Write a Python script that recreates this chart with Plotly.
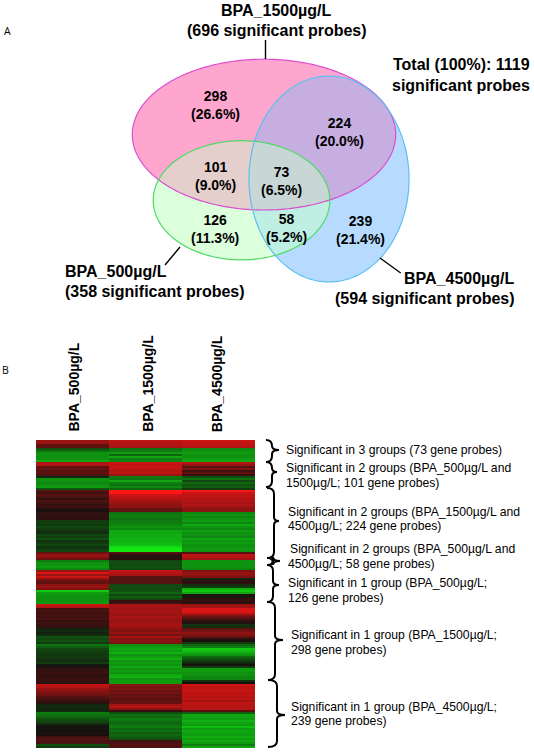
import math
import plotly.graph_objects as go

# ---------- data ----------
venn_counts = [298, 224, 101, 73, 126, 58, 239]
venn_percents = ["26.6", "20.0", "9.0", "6.5", "11.3", "5.2", "21.4"]
columns = ["BPA_500µg/L", "BPA_1500µg/L", "BPA_4500µg/L"]

col_500 = [.6,.6,.35,.35,-.3,-.45,-.6,-.6,-.6,-.6,-.7,.7,.7,.35,.4,.3,.35,.25,-.1,-.6,-.6,-.55,-.6,-.65,-.3,
 .3,.2,.3,.25,.15,.25,.2,.15,.2,.05,.03,.12,.14,.12,.1,
 -.2,-.22,-.18,-.25,-.2,-.15,-.12,-.25,-.2,-.3,-.15,-.2,-.25,-.15,-.2,-.25,
 .4,.6,.55,.4,-.5,-.6,-.6,-.65,-.55,.6,.85,.6,.8,.55,
 .4,.35,.55,.6,.5,-.85,-.65,-.6,-.6,-.6,-.6,-.65,.8,.7,
 .2,.25,.18,.22,.2,.25,.15,.2,.18,.12,-.1,-.12,-.08,-.12,-.3,-.25,-.3,-.2,
 -.45,-.35,-.25,-.22,-.2,-.18,-.2,-.15,-.12,-.2,-.03,.02,
 .15,.14,.18,.13,.15,.16,.14,.12,.75,.7,.6,.55,.5,.4,.3,.25,.15,.1,
 -.1,-.12,-.1,-.1,-.5,-.45,-.4,-.3,-.25,-.2,-.05,0,-.03,0,.05,.03,.2,.3,.25,.25,-.3,-.2]

col_1500 = [.75,.7,.7,.65,-.45,-.5,-.65,-.4,-.7,-.5,-.55,.8,.75,.8,.75,.7,.75,.6,
 -.5,-.45,-.7,-.5,-.45,-.55,-.4,1,1,.8,.75,.7,.65,.6,.55,.55,.35,.35,
 -.45,-.5,-.5,-.45,-.5,-.5,-.55,-.6,-.55,-.7,-.7,-.72,-.72,-.75,-.75,-.78,-.8,-.95,-1,-1,
 .3,.1,.08,.1,-.25,-.28,-.25,-.3,-.25,.75,.7,.65,.3,.3,
 .3,.3,-.25,-.28,-.25,-.3,-.4,-.25,-.35,-.25,.15,.2,
 .65,.65,.62,.65,.62,.6,.65,.62,.6,.62,.65,.6,.55,.5,.6,.45,.65,.5,.55,.5,
 -.6,-.65,-.7,-.65,-.75,-.6,-.65,-.75,-.6,-.65,-.6,-.7,-.6,-.65,-.6,-.7,-.75,-.6,-.65,-.65,
 .55,.45,.5,.4,.45,.35,.4,.3,.35,.4,.65,.7,.55,.15,-.3,
 -.45,-.4,-.5,-.45,-.4,-.45,-.5,-.4,-.45,-.35,-.4,-.35,-.3,.2,.25,.3,.25]

col_4500 = [.8,.75,.75,.7,-.55,-.6,-.65,-.6,-.6,-.65,-.7,.7,.6,.3,.5,.2,.35,.15,
 -.3,-.45,-.25,-.4,-.3,-.35,-.2,.95,.8,.75,.75,.7,.7,.65,.7,.6,.55,.55,
 -.55,-.6,-.55,-.6,-.65,-.55,-.7,-.6,-.55,-.65,-.6,-.6,-.55,-.7,-.6,-.65,-.6,-.6,-.65,-.6,
 .3,.75,.7,.65,-.6,-.62,-.6,-.6,-.55,.5,.6,.55,.5,-.1,
 .12,.1,-.15,-.2,-.75,-.85,-.7,.05,-.05,.15,.15,.1,.6,.65,.85,.85,.8,
 .55,.4,.25,.12,.05,-.15,-.12,.35,.45,.55,.5,.35,.1,.03,-.2,-.4,-.5,
 -.85,-.8,-.7,-.6,-.4,-.3,-.2,-.1,0,-.2,-.65,-.65,-.6,-.6,-.55,-.55,-.15,0,
 .8,.75,.75,.78,.72,.75,.7,.75,.65,.75,.72,.7,.72,.3,-.35,
 -.7,-.68,-.65,-.75,-.68,-.65,-.8,-.65,-.7,-.68,-.65,-.72,-.65,-.7,-.65,-.5,-.7]

# ---------- layout helpers (all in page pixels) ----------
W, H = 534, 752
FONT = "Liberation Sans, Arial, sans-serif"
HM_LEFT, HM_TOP, ROW_H, COL_W = 36, 440, 2, 73

z = [list(r) for r in zip(col_500, col_1500, col_4500)]
x_cent = [HM_LEFT + COL_W * (i + .5) for i in range(3)]
y_cent = [HM_TOP + ROW_H * (i + .5) for i in range(len(z))]

fig = go.Figure(go.Heatmap(
    x=x_cent, y=y_cent, z=z, zmin=-1, zmax=1, showscale=False, hoverinfo="skip",
    colorscale=[[0, "#12e812"], [.25, "#0e7c10"], [.5, "#14110f"], [.75, "#801212"], [1, "#ff1616"]],
))


def ellipse(cx, cy, rx, ry, n=240):
    return [(cx + rx * math.cos(2 * math.pi * i / n), cy + ry * math.sin(2 * math.pi * i / n)) for i in range(n)]


def clip(subject, clipper):
    """Sutherland-Hodgman for convex polygons (clipper winds clockwise on screen)."""
    out = subject
    for i in range(len(clipper)):
        a, b = clipper[i], clipper[(i + 1) % len(clipper)]
        inside = lambda p: (b[0]-a[0])*(p[1]-a[1]) - (b[1]-a[1])*(p[0]-a[0]) >= 0
        res = []
        for j in range(len(out)):
            p, q = out[j], out[(j + 1) % len(out)]
            ip, iq = inside(p), inside(q)
            if ip != iq:
                d = (b[0]-a[0])*(q[1]-p[1]) - (b[1]-a[1])*(q[0]-p[0])
                t = ((b[0]-a[0])*(a[1]-p[1]) - (b[1]-a[1])*(a[0]-p[0])) / d
                cross = (p[0] + t*(q[0]-p[0]), p[1] + t*(q[1]-p[1]))
            if ip:
                res.append(p)
                if not iq:
                    res.append(cross)
            elif iq:
                res.append(cross)
        out = res
    return out


def poly_path(pts):
    return "M" + "L".join(f"{x:.2f},{y:.2f}" for x, y in pts) + "Z"


pink = ellipse(264, 134.6, 131.7, 75.4)
green = ellipse(241.5, 200.3, 88.3, 59.6)
blue = ellipse(329, 179, 80, 103)

regions = [
    (pink, "#ffa6cf"), (blue, "#b7dbff"), (green, "#dcffdc"),
    (clip(pink, blue), "#c7aee0"), (clip(pink, green), "#e4cfcc"),
    (clip(blue, green), "#bfeee2"), (clip(clip(pink, blue), green), "#c8d6d6"),
]
for pts, col in regions:
    fig.add_shape(type="path", path=poly_path(pts), fillcolor=col, line_width=0, xref="x", yref="y")
for pts, col in [(pink, "#d94fd0"), (green, "#4fd964"), (blue, "#5cc0ee")]:
    fig.add_shape(type="path", path=poly_path(pts), line=dict(color=col, width=1.2), xref="x", yref="y")

# leader lines
for x0, y0, x1, y1 in [(265.5, 40, 265.5, 59), (180, 247, 165, 265), (380, 258, 400.7, 273)]:
    fig.add_shape(type="line", x0=x0, y0=y0, x1=x1, y1=y1, line=dict(color="black", width=1.4))


# braces: top, tip y, bottom, hook x, spine x, tip x
def brace(top, tip, bot, hx, sx, tx):
    return (f"M{hx},{top} Q{sx},{top} {sx},{top+6} L{sx},{tip-4} Q{sx},{tip} {tx},{tip} "
            f"Q{sx},{tip} {sx},{tip+4} L{sx},{bot-6} Q{sx},{bot} {hx},{bot}")


for top, tip, bot, hx, sx, tx in [
    (440, 450, 462, 266, 272, 279), (462, 472, 487, 266, 272, 277), (488, 521, 558, 267, 274, 279),
    (558, 561, 565, 268, 273, 280), (565, 585, 602, 267, 273, 279), (602, 640, 680, 268, 275, 283),
    (680, 715, 747, 268, 277, 285),
]:
    fig.add_shape(type="path", path=brace(top, tip, bot, hx, sx, tx), line=dict(color="black", width=2))


def text(x, y, s, size=14, bold=False, anchor="center", angle=0, family=FONT, color="black"):
    fig.add_annotation(x=x, y=y, text=f"<b>{s}</b>" if bold else s, showarrow=False, xanchor=anchor,
                       yanchor="middle", textangle=angle, align=anchor,
                       font=dict(size=size, family=family, color=color), xref="x", yref="y", borderpad=0, borderwidth=0)


# venn labels
for (x, y), n, p in zip([(215, 104.5), (339, 132), (215.7, 175.5), (281, 180.5), (215, 229), (286, 228), (360, 229.5)],
                        venn_counts, venn_percents):
    text(x, y, f"{n}<br>({p}%)", bold=True)

text(276, 10.5, "BPA_1500µg/L", size=16, bold=True)
text(276.5, 30, "(696 significant probes)", size=16, bold=True)
text(461.5, 64, "Total (100%): 1119", size=16, bold=True)
text(461, 85, "significant probes", size=16, bold=True)
text(64.5, 271.5, "BPA_500µg/L", size=16, bold=True, anchor="left")
text(64.5, 291, "(358 significant probes)", size=16, bold=True, anchor="left")
text(514.5, 278, "BPA_4500µg/L", size=16, bold=True, anchor="right")
text(514.5, 298, "(594 significant probes)", size=16, bold=True, anchor="right")
text(7, 31, "A", size=10.5, family="Open Sans")
text(5.5, 370, "B", size=10.5, family="Open Sans")

for x, y, s in zip([73, 147.3, 216.7], [387.5, 383.5, 383.5], columns):
    text(x, y, s, size=14, bold=True, angle=-90)

for x, y, s in [
    (285.7, 450, "Significant in 3 groups (73 gene probes)"),
    (285.7, 468, "Significant in 2 groups (BPA_500µg/L and"),
    (285.7, 483, "1500µg/L; 101 gene probes)"),
    (287.5, 511.7, "Significant in 2 groups (BPA_1500µg/L and"),
    (287.5, 526, "4500µg/L; 224 gene probes)"),
    (289.5, 549, "Significant in 2 groups (BPA_500µg/L and"),
    (288, 564, "4500µg/L; 58 gene probes)"),
    (287.5, 583, "Significant in 1 group (BPA_500µg/L;"),
    (287.5, 598, "126 gene probes)"),
    (291, 635, "Significant in 1 group (BPA_1500µg/L;"),
    (291, 650, "298 gene probes)"),
    (291, 707, "Significant in 1 group (BPA_4500µg/L;"),
    (291, 721, "239 gene probes)"),
]:
    text(x, y, s, size=12.2, anchor="left")

fig.update_layout(
    width=W, height=H, margin=dict(l=0, r=0, t=0, b=0), paper_bgcolor="white", plot_bgcolor="white",
    xaxis=dict(range=[0, W], visible=False, fixedrange=True),
    yaxis=dict(range=[H, 0], visible=False, fixedrange=True),
    showlegend=False,
)
fig.write_html("out.html", config={"displayModeBar": False},
               post_script="document.body.style.margin='0';document.body.style.overflow='hidden';")
